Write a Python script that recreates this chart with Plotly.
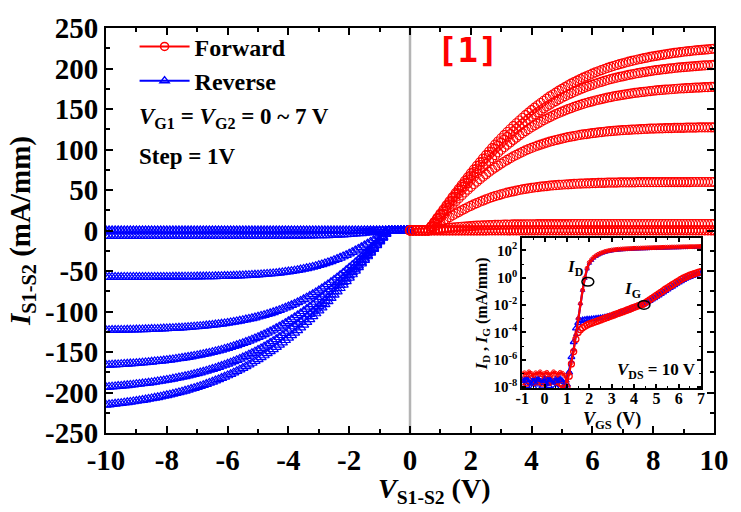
import plotly.graph_objects as go

# ---------------- main chart data (mA/mm vs V) ----------------
VDS_FWD = [0.0, 0.1, 0.2, 0.3, 0.4, 0.5, 0.6, 0.7, 0.8, 0.9, 1.0, 1.1, 1.2, 1.3, 1.4, 1.5, 1.6, 1.7, 1.8, 1.9,
           2.0, 2.1, 2.2, 2.3, 2.4, 2.5, 2.6, 2.7, 2.8, 2.9, 3.0, 3.1, 3.2, 3.3, 3.4, 3.5, 3.6, 3.7, 3.8, 3.9,
           4.0, 4.1, 4.2, 4.3, 4.4, 4.5, 4.6, 4.7, 4.8, 4.9, 5.0, 5.1, 5.2, 5.3, 5.4, 5.5, 5.6, 5.7, 5.8, 5.9,
           6.0, 6.1, 6.2, 6.3, 6.4, 6.5, 6.6, 6.7, 6.8, 6.9, 7.0, 7.1, 7.2, 7.3, 7.4, 7.5, 7.6, 7.7, 7.8, 7.9,
           8.0, 8.1, 8.2, 8.3, 8.4, 8.5, 8.6, 8.7, 8.8, 8.9, 9.0, 9.1, 9.2, 9.3, 9.4, 9.5, 9.6, 9.7, 9.8, 9.9,
           10.0]
VDS_REV = [-10.0, -9.9, -9.8, -9.7, -9.6, -9.5, -9.4, -9.3, -9.2, -9.1, -9.0, -8.9, -8.8, -8.7, -8.6, -8.5,
           -8.4, -8.3, -8.2, -8.1, -8.0, -7.9, -7.8, -7.7, -7.6, -7.5, -7.4, -7.3, -7.2, -7.1, -7.0, -6.9,
           -6.8, -6.7, -6.6, -6.5, -6.4, -6.3, -6.2, -6.1, -6.0, -5.9, -5.8, -5.7, -5.6, -5.5, -5.4, -5.3,
           -5.2, -5.1, -5.0, -4.9, -4.8, -4.7, -4.6, -4.5, -4.4, -4.3, -4.2, -4.1, -4.0, -3.9, -3.8, -3.7,
           -3.6, -3.5, -3.4, -3.3, -3.2, -3.1, -3.0, -2.9, -2.8, -2.7, -2.6, -2.5, -2.4, -2.3, -2.2, -2.1,
           -2.0, -1.9, -1.8, -1.7, -1.6, -1.5, -1.4, -1.3, -1.2, -1.1, -1.0, -0.9, -0.8, -0.7, -0.6, -0.5,
           -0.4, -0.3, -0.2, -0.1, 0.0]

# Forward sweep (VG1 = VG2 = 0 ... 7 V)
FWD_VG0 = [0.0, 0.0, 0.0, 0.0, 0.0, 0.0, 0.0, 0.0, 0.0, 0.0, 0.0, 0.0, 0.0, 0.0, 0.0, 0.0, 0.0, 0.0, 0.0, 0.0,
           0.0, 0.0, 0.0, 0.0, 0.0, 0.0, 0.0, 0.0, 0.0, 0.0, 0.0, 0.0, 0.0, 0.0, 0.0, 0.0, 0.0, 0.0, 0.0, 0.0,
           0.0, 0.0, 0.0, 0.0, 0.0, 0.0, 0.0, 0.0, 0.0, 0.0, 0.0, 0.0, 0.0, 0.0, 0.0, 0.0, 0.0, 0.0, 0.0, 0.0,
           0.0, 0.0, 0.0, 0.0, 0.0, 0.0, 0.0, 0.0, 0.0, 0.0, 0.0, 0.0, 0.0, 0.0, 0.0, 0.0, 0.0, 0.0, 0.0, 0.0,
           0.0, 0.0, 0.0, 0.0, 0.0, 0.0, 0.0, 0.0, 0.0, 0.0, 0.0, 0.0, 0.0, 0.0, 0.0, 0.0, 0.0, 0.0, 0.0, 0.0,
           0.0]
FWD_VG1 = [0.0, 0.0, 0.0, 0.0, 0.0, 0.0, 0.0, 0.0, 0.1, 0.1, 0.1, 0.1, 0.1, 0.1, 0.1, 0.1, 0.2, 0.2, 0.2, 0.2,
           0.2, 0.2, 0.2, 0.2, 0.2, 0.2, 0.3, 0.3, 0.3, 0.3, 0.3, 0.3, 0.3, 0.3, 0.3, 0.3, 0.3, 0.3, 0.3, 0.3,
           0.3, 0.3, 0.3, 0.3, 0.3, 0.3, 0.3, 0.3, 0.3, 0.3, 0.3, 0.3, 0.3, 0.3, 0.3, 0.3, 0.3, 0.3, 0.3, 0.3,
           0.3, 0.3, 0.3, 0.3, 0.3, 0.3, 0.3, 0.3, 0.3, 0.3, 0.3, 0.3, 0.3, 0.3, 0.3, 0.3, 0.3, 0.3, 0.3, 0.3,
           0.3, 0.3, 0.3, 0.3, 0.3, 0.3, 0.3, 0.3, 0.3, 0.3, 0.3, 0.3, 0.3, 0.3, 0.3, 0.3, 0.3, 0.3, 0.3, 0.3,
           0.3]
FWD_VG2 = [0.0, 0.0, 0.0, 0.0, 0.0, 0.0, 0.0, 0.5, 1.0, 1.5, 1.9, 2.4, 2.8, 3.2, 3.6, 4.0, 4.3, 4.6, 4.9, 5.2,
           5.5, 5.8, 6.0, 6.2, 6.3, 6.5, 6.7, 6.8, 6.9, 7.0, 7.1, 7.2, 7.3, 7.4, 7.5, 7.5, 7.6, 7.6, 7.7, 7.7,
           7.7, 7.7, 7.8, 7.8, 7.8, 7.8, 7.9, 7.9, 7.9, 7.9, 7.9, 7.9, 7.9, 8.0, 8.0, 8.0, 8.0, 8.0, 8.0, 8.0,
           8.0, 8.0, 8.0, 8.0, 8.0, 8.0, 8.0, 8.0, 8.0, 8.0, 8.0, 8.0, 8.0, 8.0, 8.0, 8.0, 8.0, 8.0, 8.0, 8.0,
           8.0, 8.0, 8.0, 8.0, 8.0, 8.0, 8.0, 8.0, 8.0, 8.0, 8.0, 8.0, 8.0, 8.0, 8.0, 8.0, 8.0, 8.0, 8.0, 8.0,
           8.0]
FWD_VG3 = [0.0, 0.0, 0.0, 0.0, 0.0, 0.0, 0.0, 2.4, 4.8, 7.2, 9.5, 11.8, 14.1, 16.4, 18.6, 20.7, 22.8, 24.8,
           26.8, 28.7, 30.5, 32.2, 33.9, 35.5, 37.0, 38.4, 39.8, 41.1, 42.4, 43.5, 44.6, 45.7, 46.7, 47.6,
           48.4, 49.2, 50.0, 50.7, 51.4, 52.0, 52.6, 53.1, 53.6, 54.1, 54.5, 54.9, 55.3, 55.7, 56.0, 56.3,
           56.5, 56.8, 57.0, 57.3, 57.5, 57.7, 57.8, 58.0, 58.1, 58.3, 58.4, 58.6, 58.7, 58.8, 58.9, 59.0,
           59.0, 59.1, 59.2, 59.3, 59.3, 59.4, 59.4, 59.5, 59.5, 59.6, 59.6, 59.6, 59.6, 59.7, 59.7, 59.7,
           59.7, 59.7, 59.7, 59.8, 59.8, 59.8, 59.8, 59.8, 59.8, 59.8, 59.8, 59.9, 59.9, 59.9, 59.9, 59.9,
           59.9, 59.9, 59.9]
FWD_VG4 = [0.0, 0.0, 0.0, 0.0, 0.0, 0.0, 0.0, 4.1, 8.2, 12.3, 16.3, 20.3, 24.3, 28.2, 32.1, 35.9, 39.6, 43.3,
           46.9, 50.4, 53.8, 57.1, 60.3, 63.4, 66.5, 69.4, 72.3, 75.0, 77.7, 80.2, 82.6, 84.9, 87.2, 89.3,
           91.4, 93.3, 95.2, 97.0, 98.8, 100.4, 101.9, 103.4, 104.8, 106.1, 107.3, 108.5, 109.6, 110.7,
           111.7, 112.6, 113.5, 114.4, 115.2, 115.9, 116.6, 117.3, 118.0, 118.6, 119.1, 119.6, 120.1, 120.6,
           121.1, 121.5, 121.9, 122.3, 122.6, 122.9, 123.2, 123.5, 123.8, 124.1, 124.3, 124.5, 124.7, 124.9,
           125.1, 125.3, 125.5, 125.7, 125.8, 125.9, 126.0, 126.2, 126.3, 126.4, 126.5, 126.6, 126.7, 126.8,
           126.8, 126.9, 127.0, 127.1, 127.1, 127.2, 127.2, 127.3, 127.3, 127.4, 127.4]
FWD_VG5 = [0.0, 0.0, 0.0, 0.0, 0.0, 0.0, 0.0, 4.7, 9.4, 14.0, 18.6, 23.2, 27.8, 32.4, 36.9, 41.4, 45.8, 50.1,
           54.4, 58.6, 62.8, 66.8, 70.8, 74.7, 78.6, 82.3, 86.0, 89.5, 93.0, 96.4, 99.7, 102.8, 105.9, 108.9,
           111.9, 114.7, 117.5, 120.1, 122.7, 125.1, 127.5, 129.8, 132.0, 134.1, 136.2, 138.1, 140.0, 141.8,
           143.6, 145.2, 146.8, 148.3, 149.8, 151.2, 152.6, 153.9, 155.1, 156.3, 157.4, 158.5, 159.5, 160.5,
           161.4, 162.3, 163.2, 164.0, 164.7, 165.5, 166.2, 166.9, 167.5, 168.1, 168.7, 169.3, 169.8, 170.3,
           170.8, 171.2, 171.6, 172.1, 172.5, 172.9, 173.2, 173.5, 173.8, 174.1, 174.4, 174.7, 175.0, 175.3,
           175.5, 175.7, 175.9, 176.1, 176.3, 176.5, 176.7, 176.9, 177.0, 177.2, 177.3]
FWD_VG6 = [0.0, 0.0, 0.0, 0.0, 0.0, 0.0, 0.0, 5.0, 10.0, 15.0, 20.0, 25.0, 29.9, 34.8, 39.6, 44.4, 49.2, 53.9,
           58.6, 63.2, 67.7, 72.1, 76.5, 80.8, 85.0, 89.2, 93.3, 97.2, 101.1, 104.9, 108.6, 112.2, 115.7,
           119.1, 122.5, 125.7, 128.9, 131.9, 134.9, 137.8, 140.6, 143.3, 145.9, 148.4, 150.9, 153.2, 155.5,
           157.7, 159.8, 161.9, 163.9, 165.8, 167.6, 169.3, 171.0, 172.6, 174.2, 175.7, 177.2, 178.6, 179.9,
           181.2, 182.4, 183.6, 184.7, 185.8, 186.8, 187.8, 188.7, 189.6, 190.4, 191.3, 192.1, 192.8, 193.5,
           194.2, 194.9, 195.6, 196.2, 196.8, 197.3, 197.9, 198.4, 198.9, 199.3, 199.8, 200.2, 200.6, 201.0,
           201.4, 201.7, 202.0, 202.3, 202.7, 203.0, 203.3, 203.5, 203.8, 204.0, 204.2, 204.4]
FWD_VG7 = [0.0, 0.0, 0.0, 0.0, 0.0, 0.0, 0.0, 5.2, 10.4, 15.6, 20.7, 25.9, 31.0, 36.1, 41.1, 46.1, 51.1, 56.0,
           60.9, 65.7, 70.5, 75.1, 79.7, 84.2, 88.7, 93.1, 97.5, 101.7, 105.9, 109.9, 113.9, 117.8, 121.6,
           125.3, 128.9, 132.4, 135.8, 139.2, 142.5, 145.6, 148.7, 151.7, 154.6, 157.4, 160.2, 162.9, 165.5,
           167.9, 170.3, 172.6, 174.9, 177.1, 179.3, 181.3, 183.2, 185.1, 186.9, 188.7, 190.4, 192.0, 193.6,
           195.1, 196.6, 198.0, 199.4, 200.7, 201.9, 203.1, 204.3, 205.4, 206.4, 207.4, 208.4, 209.3, 210.2,
           211.1, 212.0, 212.8, 213.5, 214.3, 215.0, 215.7, 216.3, 216.9, 217.5, 218.1, 218.7, 219.2, 219.7,
           220.2, 220.7, 221.1, 221.5, 221.9, 222.3, 222.7, 223.1, 223.4, 223.7, 224.1, 224.4]

# Reverse sweep (VG1 = VG2 = 0 ... 7 V)
REV_VG0 = [0.0, 0.0, 0.0, 0.0, 0.0, 0.0, 0.0, 0.0, 0.0, 0.0, 0.0, 0.0, 0.0, 0.0, 0.0, 0.0, 0.0, 0.0, 0.0, 0.0,
           0.0, 0.0, 0.0, 0.0, 0.0, 0.0, 0.0, 0.0, 0.0, 0.0, 0.0, 0.0, 0.0, 0.0, 0.0, 0.0, 0.0, 0.0, 0.0, 0.0,
           0.0, 0.0, 0.0, 0.0, 0.0, 0.0, 0.0, 0.0, 0.0, 0.0, 0.0, 0.0, 0.0, 0.0, 0.0, 0.0, 0.0, 0.0, 0.0, 0.0,
           0.0, 0.0, 0.0, 0.0, 0.0, 0.0, 0.0, 0.0, 0.0, 0.0, 0.0, 0.0, 0.0, 0.0, 0.0, 0.0, 0.0, 0.0, 0.0, 0.0,
           0.0, 0.0, 0.0, 0.0, 0.0, 0.0, 0.0, 0.0, 0.0, 0.0, 0.0, 0.0, 0.0, 0.0, 0.0, 0.0, 0.0, 0.0, 0.0, 0.0,
           0.0]
REV_VG1 = [-0.3, -0.3, -0.3, -0.3, -0.3, -0.3, -0.3, -0.3, -0.3, -0.3, -0.3, -0.3, -0.3, -0.3, -0.3, -0.3,
           -0.3, -0.3, -0.3, -0.3, -0.3, -0.3, -0.3, -0.3, -0.3, -0.3, -0.3, -0.3, -0.3, -0.3, -0.3, -0.3,
           -0.3, -0.3, -0.3, -0.3, -0.3, -0.3, -0.3, -0.3, -0.3, -0.3, -0.3, -0.3, -0.3, -0.3, -0.3, -0.3,
           -0.3, -0.3, -0.3, -0.3, -0.3, -0.3, -0.3, -0.3, -0.3, -0.3, -0.3, -0.3, -0.3, -0.3, -0.3, -0.3,
           -0.3, -0.3, -0.3, -0.3, -0.3, -0.3, -0.3, -0.3, -0.3, -0.3, -0.3, -0.3, -0.2, -0.2, -0.2, -0.2,
           -0.2, -0.2, -0.2, -0.2, -0.2, -0.1, -0.1, -0.1, -0.1, -0.1, -0.1, -0.1, -0.1, 0.0, 0.0, 0.0,
           0.0, 0.0, 0.0, 0.0, 0.0]
REV_VG2 = [-7.0, -7.0, -7.0, -7.0, -7.0, -7.0, -7.0, -7.0, -7.0, -7.0, -7.0, -7.0, -7.0, -7.0, -7.0, -7.0,
           -7.0, -7.0, -7.0, -7.0, -7.0, -7.0, -7.0, -7.0, -7.0, -7.0, -7.0, -7.0, -7.0, -7.0, -7.0, -7.0,
           -7.0, -7.0, -7.0, -7.0, -7.0, -7.0, -7.0, -7.0, -7.0, -7.0, -7.0, -6.9, -6.9, -6.9, -6.9, -6.9,
           -6.9, -6.9, -6.9, -6.9, -6.9, -6.8, -6.8, -6.8, -6.8, -6.8, -6.8, -6.7, -6.7, -6.7, -6.7, -6.6,
           -6.6, -6.5, -6.5, -6.4, -6.3, -6.2, -6.2, -6.1, -6.0, -5.9, -5.7, -5.5, -5.4, -5.2, -5.0, -4.8,
           -4.6, -4.3, -4.0, -3.7, -3.5, -3.1, -2.8, -2.4, -2.0, -1.6, -1.2, -0.8, -0.4, 0.0, 0.0, 0.0,
           0.0, 0.0, 0.0, 0.0, 0.0]
REV_VG3 = [-57.5, -57.5, -57.5, -57.5, -57.5, -57.5, -57.4, -57.4, -57.4, -57.4,
           -57.4, -57.4, -57.4, -57.4, -57.4, -57.4, -57.3, -57.3, -57.3, -57.3,
           -57.3, -57.3, -57.2, -57.2, -57.2, -57.2, -57.1, -57.1, -57.0, -57.0,
           -56.9, -56.9, -56.8, -56.8, -56.7, -56.7, -56.6, -56.5, -56.4, -56.3,
           -56.2, -56.1, -55.9, -55.8, -55.6, -55.5, -55.3, -55.1, -54.9, -54.7,
           -54.5, -54.2, -53.9, -53.6, -53.3, -53.0, -52.6, -52.2, -51.7, -51.2,
           -50.7, -50.2, -49.6, -48.9, -48.2, -47.5, -46.7, -45.9, -45.0, -44.0,
           -42.9, -41.8, -40.7, -39.4, -38.1, -36.7, -35.3, -33.7, -32.1, -30.4,
           -28.6, -26.7, -24.8, -22.8, -20.8, -18.6, -16.4, -14.2, -11.9, -9.6,
           -7.2, -4.8, -2.4, 0.0, 0.0, 0.0, 0.0, 0.0, 0.0, 0.0, 0.0]
REV_VG4 = [-123.1, -123.0, -122.9, -122.9, -122.8, -122.8, -122.7, -122.6, -122.5, -122.4,
           -122.3, -122.2, -122.1, -122.0, -121.8, -121.7, -121.6, -121.5, -121.3, -121.1,
           -120.9, -120.7, -120.5, -120.3, -120.1, -119.9, -119.6, -119.4, -119.1, -118.8,
           -118.5, -118.2, -117.8, -117.4, -117.0, -116.6, -116.1, -115.7, -115.2, -114.7,
           -114.1, -113.5, -112.9, -112.2, -111.5, -110.8, -110.0, -109.2, -108.4, -107.5,
           -106.5, -105.5, -104.5, -103.4, -102.2, -101.0, -99.7, -98.3, -96.9, -95.4,
           -93.9, -92.3, -90.6, -88.8, -87.0, -85.0, -83.0, -80.9, -78.8, -76.5,
           -74.2, -71.7, -69.2, -66.6, -63.9, -61.1, -58.3, -55.3, -52.3, -49.2,
           -46.1, -42.8, -39.5, -36.1, -32.7, -29.2, -25.7, -22.1, -18.5, -14.8,
           -11.1, -7.4, -3.7, 0.0, 0.0, 0.0, 0.0, 0.0, 0.0, 0.0, 0.0]
REV_VG5 = [-166.1, -165.9, -165.7, -165.5, -165.3, -165.1, -164.8, -164.6, -164.3, -164.1,
           -163.8, -163.5, -163.1, -162.8, -162.5, -162.1, -161.7, -161.4, -161.0, -160.6,
           -160.1, -159.6, -159.1, -158.6, -158.0, -157.5, -156.9, -156.3, -155.6, -154.9,
           -154.2, -153.5, -152.7, -151.9, -151.1, -150.2, -149.3, -148.4, -147.4, -146.3,
           -145.2, -144.1, -142.9, -141.7, -140.4, -139.1, -137.7, -136.3, -134.8, -133.3,
           -131.7, -130.0, -128.3, -126.5, -124.7, -122.7, -120.7, -118.7, -116.6, -114.4,
           -112.1, -109.8, -107.4, -104.9, -102.3, -99.7, -97.0, -94.2, -91.3, -88.3,
           -85.3, -82.2, -79.1, -75.8, -72.5, -69.1, -65.7, -62.2, -58.7, -55.1,
           -51.4, -47.7, -43.9, -40.1, -36.2, -32.3, -28.3, -24.3, -20.3, -16.3,
           -12.2, -8.2, -4.1, 0.0, 0.0, 0.0, 0.0, 0.0, 0.0, 0.0, 0.0]
REV_VG6 = [-193.4, -193.1, -192.8, -192.5, -192.1, -191.8, -191.4, -191.1, -190.7, -190.3,
           -189.8, -189.4, -188.9, -188.5, -188.0, -187.5, -186.9, -186.4, -185.8, -185.2,
           -184.5, -183.8, -183.1, -182.4, -181.6, -180.8, -180.0, -179.2, -178.3, -177.4,
           -176.4, -175.4, -174.4, -173.3, -172.2, -171.1, -169.9, -168.6, -167.3, -166.0,
           -164.6, -163.1, -161.6, -160.1, -158.5, -156.8, -155.1, -153.3, -151.5, -149.6,
           -147.6, -145.5, -143.4, -141.2, -139.0, -136.7, -134.3, -131.8, -129.3, -126.7,
           -124.1, -121.3, -118.5, -115.6, -112.7, -109.6, -106.5, -103.3, -100.1, -96.8,
           -93.4, -89.9, -86.4, -82.7, -79.0, -75.3, -71.5, -67.6, -63.7, -59.7,
           -55.7, -51.6, -47.5, -43.3, -39.1, -34.9, -30.6, -26.3, -21.9, -17.6,
           -13.2, -8.8, -4.4, 0.0, 0.0, 0.0, 0.0, 0.0, 0.0, 0.0, 0.0]
REV_VG7 = [-215.3, -214.9, -214.4, -214.0, -213.5, -213.1, -212.6, -212.1, -211.6, -211.1,
           -210.5, -209.9, -209.3, -208.7, -208.0, -207.3, -206.6, -205.9, -205.1, -204.3,
           -203.5, -202.7, -201.8, -200.9, -199.9, -198.9, -197.9, -196.8, -195.7, -194.6,
           -193.4, -192.2, -190.9, -189.6, -188.2, -186.8, -185.3, -183.8, -182.2, -180.6,
           -179.0, -177.3, -175.5, -173.7, -171.8, -169.8, -167.8, -165.7, -163.6, -161.4,
           -159.1, -156.7, -154.3, -151.8, -149.3, -146.7, -144.0, -141.2, -138.4, -135.5,
           -132.5, -129.5, -126.4, -123.2, -119.9, -116.6, -113.2, -109.7, -106.1, -102.5,
           -98.8, -95.1, -91.3, -87.4, -83.5, -79.5, -75.4, -71.3, -67.1, -62.9,
           -58.6, -54.3, -49.9, -45.5, -41.0, -36.6, -32.1, -27.6, -23.0, -18.4,
           -13.8, -9.2, -4.6, 0.0, 0.0, 0.0, 0.0, 0.0, 0.0, 0.0, 0.0]

FWD_CURVES = [FWD_VG0, FWD_VG1, FWD_VG2, FWD_VG3, FWD_VG4, FWD_VG5, FWD_VG6, FWD_VG7]
REV_CURVES = [REV_VG0, REV_VG1, REV_VG2, REV_VG3, REV_VG4, REV_VG5, REV_VG6, REV_VG7]
for _c in FWD_CURVES:
    assert len(_c) == len(VDS_FWD), len(_c)
for _c in REV_CURVES:
    assert len(_c) == len(VDS_REV), len(_c)

X_TICKS = [-10, -8, -6, -4, -2, 0, 2, 4, 6, 8, 10]
X_TICK_LABELS = ["-10", "-8", "-6", "-4", "-2", "0", "2", "4", "6", "8", "10"]
X_MINOR = [-9, -7, -5, -3, -1, 1, 3, 5, 7, 9]
Y_TICKS = [-250, -200, -150, -100, -50, 0, 50, 100, 150, 200, 250]
Y_TICK_LABELS = ["-250", "-200", "-150", "-100", "-50", "0", "50", "100", "150", "200", "250"]
Y_MINOR = [-225, -175, -125, -75, -25, 25, 75, 125, 175, 225]

# ---------------- inset data: transfer curves at VDS = 10 V ----------------
VGS = [-1.0, -0.9, -0.8, -0.7, -0.6, -0.5, -0.4, -0.3, -0.2, -0.1, 0.0, 0.1, 0.2, 0.3, 0.4, 0.5, 0.6, 0.7,
       0.8, 0.9, 1.0, 1.1, 1.2, 1.3, 1.4, 1.5, 1.6, 1.7, 1.8, 1.9, 2.0, 2.1, 2.2, 2.3, 2.4, 2.5, 2.6, 2.7,
       2.8, 2.9, 3.0, 3.1, 3.2, 3.3, 3.4, 3.5, 3.6, 3.7, 3.8, 3.9, 4.0, 4.1, 4.2, 4.3, 4.4, 4.5, 4.6, 4.7,
       4.8, 4.9, 5.0, 5.1, 5.2, 5.3, 5.4, 5.5, 5.6, 5.7, 5.8, 5.9, 6.0, 6.1, 6.2, 6.3, 6.4, 6.5, 6.6, 6.7,
       6.8, 6.9, 7.0]
ID_FWD = [9e-8, 1.1e-7, 8e-8, 1.3e-7, 1e-7, 7e-8, 1.1e-7, 9e-8, 1.3e-7, 8e-8,
          1e-7, 1.2e-7, 8e-8, 9e-8, 1.3e-7, 1e-7, 8e-8, 1.2e-7, 1e-7, 7e-8,
          2e-8, 1e-7, 6.3e-7, 5e-6, 6.3e-5, 1e-3, 1.26e-2, 0.126, 1.0, 5.0,
          13.2, 21.4, 31.6, 41.7, 52.5, 63.1, 72.4, 83.2, 91.2, 100,
          107, 112, 117, 123, 126, 129, 132, 135, 138, 141,
          145, 146, 148, 150, 151, 153, 155, 158, 159, 162,
          163, 166, 167, 170, 171, 174, 175, 178, 178, 179,
          182, 183, 186, 186, 187, 190, 191, 191, 195, 195,
          200]
ID_REV = [4e-8, 2.5e-8, 5e-8, 3e-8, 1.6e-8, 4.5e-8, 2e-8, 5e-8, 3e-8, 2.5e-8,
          4e-8, 1.5e-8, 5e-8, 3e-8, 2e-8, 4.5e-8, 2.5e-8, 5e-8, 3e-8, 2e-8,
          3e-8, 1.5e-7, 8e-7, 6e-6, 7e-5, 1.1e-3, 1.3e-2, 0.12, 0.9, 4.4,
          11.6, 18.8, 27.8, 36.7, 46.2, 55.5, 63.7, 73.2, 80.3, 88,
          94, 98.6, 103, 108, 111, 114, 116, 119, 121, 124,
          128, 128, 130, 132, 133, 135, 136, 139, 140, 143,
          143, 146, 147, 150, 150, 153, 154, 157, 157, 158,
          160, 161, 164, 164, 165, 167, 168, 168, 172, 172,
          176]
IG_FWD = [2.5e-8, 3.5e-8, 2e-8, 3e-8, 4e-8, 2.2e-8, 3e-8, 2.5e-8, 3.8e-8, 2e-8,
          2.8e-8, 3.5e-8, 2.2e-8, 3e-8, 4e-8, 2.5e-8, 3.2e-8, 2e-8, 1.5e-8, 1e-8,
          1e-8, 6.3e-8, 5e-7, 4e-6, 3.2e-5, 1e-4, 1.6e-4, 2.2e-4, 2.8e-4, 3.5e-4,
          4.2e-4, 4.8e-4, 5.5e-4, 6.3e-4, 7.2e-4, 8.3e-4, 9.5e-4, 1.1e-3, 1.26e-3, 1.45e-3,
          1.66e-3, 1.9e-3, 2.2e-3, 2.5e-3, 2.9e-3, 3.3e-3, 3.8e-3, 4.4e-3, 5e-3, 5.9e-3,
          6.9e-3, 7.9e-3, 9.1e-3, 1.02e-2, 1.17e-2, 1.48e-2, 1.9e-2, 2.45e-2, 3.16e-2, 4.07e-2,
          5.25e-2, 6.76e-2, 8.7e-2, 0.112, 0.145, 0.186, 0.24, 0.302, 0.38, 0.479,
          0.603, 0.759, 0.933, 1.12, 1.32, 1.55, 1.78, 2.04, 2.29, 2.57,
          2.82]
IG_REV = [1.5e-8, 3e-8, 1.2e-8, 4e-8, 2e-8, 1e-8, 3.5e-8, 1.6e-8, 2.5e-8, 1.1e-8,
          4.5e-8, 1.8e-8, 1.2e-8, 3e-8, 2.2e-8, 1e-8, 3.8e-8, 1.5e-8, 2.6e-8, 1.2e-8,
          1.5e-8, 1.2e-7, 1.6e-6, 2e-5, 2e-4, 5e-4, 7e-4, 8e-4, 8.5e-4, 9e-4,
          9e-4, 9.5e-4, 1e-3, 1.05e-3, 1.1e-3, 1.15e-3, 1.2e-3, 1.3e-3, 1.4e-3, 1.5e-3,
          1.65e-3, 1.85e-3, 2.1e-3, 2.4e-3, 2.8e-3, 3.2e-3, 3.7e-3, 4.3e-3, 4.9e-3, 5.7e-3,
          6.6e-3, 7.5e-3, 8.6e-3, 9.6e-3, 1.1e-2, 1.35e-2, 1.7e-2, 2.1e-2, 2.6e-2, 3.3e-2,
          4.2e-2, 5.3e-2, 6.8e-2, 8.7e-2, 0.112, 0.143, 0.183, 0.23, 0.29, 0.37,
          0.46, 0.58, 0.72, 0.86, 1.02, 1.2, 1.38, 1.58, 1.78, 2.0,
          2.2]
for _c in (ID_FWD, ID_REV, IG_FWD, IG_REV):
    assert len(_c) == len(VGS), len(_c)

INSET_X_TICKS = [-1, 0, 1, 2, 3, 4, 5, 6, 7]
INSET_X_LABELS = ["-1", "0", "1", "2", "3", "4", "5", "6", "7"]
INSET_X_MINOR = [-0.5, 0.5, 1.5, 2.5, 3.5, 4.5, 5.5, 6.5]
INSET_Y_TICKS = [1e-8, 1e-6, 1e-4, 1e-2, 1e0, 1e2]
INSET_Y_LABELS = ["10<sup>-8</sup>", "10<sup>-6</sup>", "10<sup>-4</sup>", "10<sup>-2</sup>",
                  "10<sup>0</sup>", "10<sup>2</sup>"]
INSET_Y_MINOR = [1e-7, 1e-5, 1e-3, 1e-1, 1e1]

RED = "#ff0000"
BLUE = "#0000ff"
SERIF = "Liberation Serif"

fig = go.Figure()

# reverse curves (blue open triangles)
for ys in REV_CURVES:
    fig.add_trace(go.Scatter(
        x=VDS_REV, y=ys, mode="markers", showlegend=False, hoverinfo="skip",
        marker=dict(symbol="triangle-up-open", size=9, color=BLUE, line=dict(width=1.2, color=BLUE))))

# forward curves (red open circles)
for ys in FWD_CURVES:
    fig.add_trace(go.Scatter(
        x=VDS_FWD, y=ys, mode="markers", showlegend=False, hoverinfo="skip",
        marker=dict(symbol="circle-open", size=9, color=RED, line=dict(width=1.2, color=RED))))

# legend entries
fig.add_trace(go.Scatter(x=[None], y=[None], mode="lines+markers", name="Forward",
                         line=dict(color=RED, width=2),
                         marker=dict(symbol="circle-open", size=8, color=RED, line=dict(width=1.5, color=RED))))
fig.add_trace(go.Scatter(x=[None], y=[None], mode="lines+markers", name="Reverse",
                         line=dict(color=BLUE, width=2),
                         marker=dict(symbol="triangle-up-open", size=8, color=BLUE,
                                     line=dict(width=1.5, color=BLUE))))

# inset traces
fig.add_trace(go.Scatter(x=VGS, y=IG_REV, mode="markers", xaxis="x2", yaxis="y2", showlegend=False,
                         hoverinfo="skip",
                         marker=dict(symbol="triangle-up-open", size=6, color=BLUE,
                                     line=dict(width=1.3, color=BLUE))))
fig.add_trace(go.Scatter(x=VGS, y=IG_FWD, mode="markers", xaxis="x2", yaxis="y2", showlegend=False,
                         hoverinfo="skip",
                         marker=dict(symbol="circle-open", size=6, color=RED, line=dict(width=1.3, color=RED))))
fig.add_trace(go.Scatter(x=VGS, y=ID_REV, mode="lines+markers", xaxis="x2", yaxis="y2", showlegend=False,
                         hoverinfo="skip", line=dict(color=BLUE, width=2.2),
                         marker=dict(symbol="triangle-up-open", size=4, color=BLUE,
                                     line=dict(width=1, color=BLUE))))
fig.add_trace(go.Scatter(x=VGS, y=ID_FWD, mode="lines+markers", xaxis="x2", yaxis="y2", showlegend=False,
                         hoverinfo="skip", line=dict(color=RED, width=2.2),
                         marker=dict(symbol="circle-open", size=4, color=RED, line=dict(width=1, color=RED))))

axis_common = dict(showline=True, linewidth=2, linecolor="black", mirror="allticks", showgrid=False,
                   zeroline=False, ticks="inside", tickcolor="black", ticklabeloverflow="allow")

fig.update_layout(
    width=741, height=512,
    margin=dict(l=106, r=23, t=15, b=79),
    paper_bgcolor="white", plot_bgcolor="white",
    font=dict(family=SERIF, color="black"),
    xaxis=dict(**axis_common, range=[-10, 10], tickvals=X_TICKS, ticktext=X_TICK_LABELS,
               ticklen=7, tickwidth=2,
               tickfont=dict(family=SERIF, size=29, weight="bold", color="black"),
               minor=dict(tickvals=X_MINOR, ticks="inside", ticklen=4, tickwidth=1.5, tickcolor="black")),
    yaxis=dict(**axis_common, range=[-250, 250], tickvals=Y_TICKS, ticktext=Y_TICK_LABELS,
               ticklen=7, tickwidth=2,
               tickfont=dict(family=SERIF, size=29, weight="bold", color="black"),
               minor=dict(tickvals=Y_MINOR, ticks="inside", ticklen=4, tickwidth=1.5, tickcolor="black"),
               title=dict(text="<b><i>I</i><sub>S1-S2</sub> (mA/mm)</b>",
                          font=dict(family=SERIF, size=29, color="black"), standoff=6)),
    xaxis2=dict(**axis_common, domain=[0.6846, 0.9788], anchor="y2", range=[-1, 7],
                tickvals=INSET_X_TICKS, ticktext=INSET_X_LABELS, ticklen=4, tickwidth=1.5,
                ticklabelstandoff=-6,
                tickfont=dict(family=SERIF, size=16, weight="bold", color="black"),
                minor=dict(tickvals=INSET_X_MINOR, ticks="inside", ticklen=2, tickwidth=1, tickcolor="black")),
    yaxis2=dict(**axis_common, domain=[0.110, 0.481], anchor="x2", type="log", range=[-8.1, 2.9],
                tickvals=INSET_Y_TICKS, ticktext=INSET_Y_LABELS, ticklen=4, tickwidth=1.5,
                tickfont=dict(family=SERIF, size=15, weight="bold", color="black"),
                minor=dict(tickvals=INSET_Y_MINOR, ticks="inside", ticklen=2, tickwidth=1, tickcolor="black"),
                title=dict(text="<b><i>I</i><sub>D</sub> , <i>I</i><sub>G</sub> (mA/mm)</b>",
                           font=dict(family=SERIF, size=16, color="black"), standoff=2)),
    legend=dict(x=0.047, y=1.009, xanchor="left", yanchor="top", bgcolor="rgba(0,0,0,0)",
                font=dict(family=SERIF, size=24, weight="bold", color="black"),
                itemwidth=50, tracegroupgap=0),
    shapes=[
        dict(type="line", xref="x", yref="y", x0=0, x1=0, y0=-250, y1=250,
             line=dict(color="#b4b4b4", width=2.5), layer="below"),
        dict(type="circle", xref="x2", yref="y2", x0=1.67, x1=2.2, y0=0.25, y1=1.07,
             line=dict(color="black", width=1.5)),
        dict(type="circle", xref="x2", yref="y2", x0=4.18, x1=4.71, y0=5e-3, y1=2.1e-2,
             line=dict(color="black", width=1.5)),
    ],
    annotations=[
        dict(text="<b><i>V</i><sub>S1-S2</sub> (V)</b>", xref="paper", yref="paper",
             x=0.444, y=-0.142, xanchor="left", yanchor="middle", showarrow=False,
             font=dict(family=SERIF, size=28, color="black")),
        dict(text="<b><i>V</i><sub>GS</sub> (V)</b>", xref="x2", yref="paper",
             x=3.0, y=0.032, xanchor="center", yanchor="middle", showarrow=False,
             font=dict(family=SERIF, size=18, color="black")),
        dict(text="[1]", xref="x", yref="y", x=1.9, y=223, showarrow=False,
             font=dict(family="DejaVu Sans Mono", size=34, weight="bold", color=RED)),
        dict(text="<b><i>V</i><sub>G1</sub> = <i>V</i><sub>G2</sub> = 0 ~ 7 V</b>", xref="paper",
             yref="paper", x=0.0507, y=0.778, xanchor="left", yanchor="middle", showarrow=False,
             font=dict(family=SERIF, size=23, color="black")),
        dict(text="<b>Step = 1V</b>", xref="paper", yref="paper",
             x=0.0507, y=0.682, xanchor="left", yanchor="middle", showarrow=False,
             font=dict(family=SERIF, size=23, color="black")),
        dict(text="<b><i>I</i><sub>D</sub></b>", xref="x2", yref="y2", x=1.36, y=0.70, showarrow=False,
             font=dict(family=SERIF, size=17, color="black")),
        dict(text="<b><i>I</i><sub>G</sub></b>", xref="x2", yref="y2", x=3.93, y=-0.86, showarrow=False,
             font=dict(family=SERIF, size=17, color="black")),
        dict(text="<b><i>V</i><sub>DS</sub> = 10 V</b>", xref="x2", yref="y2", x=5.0, y=-6.83,
             showarrow=False, font=dict(family=SERIF, size=17, color="black")),
    ],
)

fig.write_html("out.html")
